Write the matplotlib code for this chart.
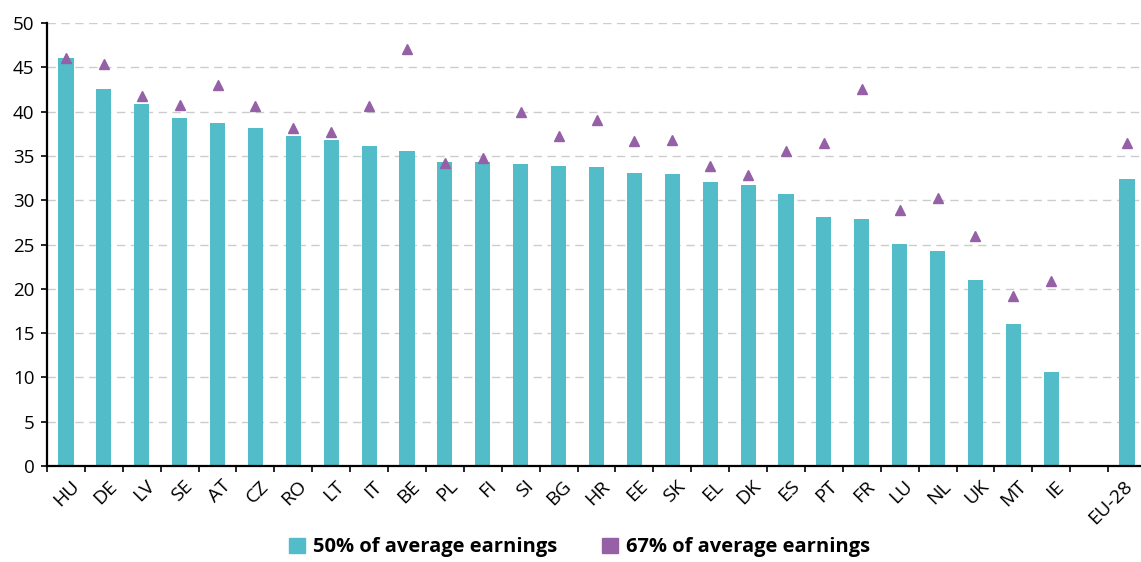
import numpy as np
import matplotlib.pyplot as plt
import matplotlib.transforms as mtransforms
from matplotlib.patches import Patch

plt.rcParams['font.family'] = ['Open Sans', 'DejaVu Sans']

countries = ["HU", "DE", "LV", "SE", "AT", "CZ", "RO", "LT", "IT", "BE", "PL", "FI", "SI",
             "BG", "HR", "EE", "SK", "EL", "DK", "ES", "PT", "FR", "LU", "NL", "UK", "MT",
             "IE", "", "EU-28"]
pct50 = [46.1, 42.5, 40.9, 39.3, 38.7, 38.1, 37.2, 36.8, 36.1, 35.5, 34.3, 34.3, 34.1,
         33.9, 33.8, 33.1, 33.0, 32.1, 31.7, 30.7, 28.1, 27.9, 25.1, 24.3, 21.0, 16.0,
         10.6, np.nan, 32.4]
pct67 = [46.0, 45.4, 41.8, 40.7, 43.0, 40.6, 38.2, 37.7, 40.6, 47.1, 34.2, 34.8, 39.9,
         37.3, 39.1, 36.7, 36.8, 33.9, 32.9, 35.6, 36.5, 42.6, 28.9, 30.3, 26.0, 19.2,
         20.9, np.nan, 36.5]

teal = "#52BDC9"
purple = "#9560A6"

fig = plt.figure(figsize=(11.41, 5.62), dpi=100)
ax = fig.add_axes([47 / 1141, 96 / 562, 1099 / 1141, 443 / 562])

x = np.arange(len(countries))
ax.bar(x, pct50, width=0.4, color=teal, zorder=2)
ax.plot(x, pct67, linestyle="none", marker="^", markersize=7, color=purple, zorder=3)

ax.set_xlim(-0.5, len(countries) - 0.5)
ax.set_ylim(0, 50)
ax.set_yticks(np.arange(0, 51, 5))
ax.tick_params(axis="y", labelsize=13.5, length=4, width=1.2, pad=5)
ax.yaxis.grid(True, linestyle=(0, (6, 4)), color="#cccccc", linewidth=1)
ax.set_axisbelow(True)

# labels at bar centres, tick marks at the slot edges
ax.set_xticks(x)
ax.set_xticklabels(countries, rotation=45, ha="right", va="top",
                   rotation_mode="anchor", fontsize=14)
ax.tick_params(axis="x", which="major", length=0, pad=8)
labels = ax.get_xticklabels()
for lbl in labels:
    dx = -4 if lbl.get_text() == "EU-28" else 4
    shift = mtransforms.ScaledTranslation(dx / 100, 0, fig.dpi_scale_trans)
    lbl.set_transform(lbl.get_transform() + shift)
ax.set_xticks(np.arange(-0.5, len(countries), 1), minor=True)
ax.tick_params(axis="x", which="minor", length=4, width=1.2)

for side in ["top", "right"]:
    ax.spines[side].set_visible(False)
for side in ["left", "bottom"]:
    ax.spines[side].set_linewidth(1.6)

handles = [Patch(color=teal, label="50% of average earnings"),
           Patch(color=purple, label="67% of average earnings")]
fig.legend(handles=handles, loc="center", bbox_to_anchor=(0.508, 0.026), ncol=2,
           frameon=False, handlelength=0.8, handleheight=0.8, handletextpad=0.4,
           columnspacing=2.2, prop={"weight": "bold", "size": 14.5})

fig.savefig("out.png", dpi=100)
